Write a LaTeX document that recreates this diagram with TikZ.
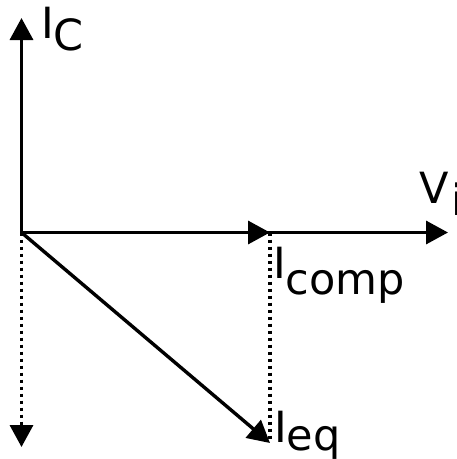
\documentclass[tikz,border=0pt]{standalone}
\usepackage{fontspec}
\setmainfont{DejaVu Sans}
\usetikzlibrary{arrows.meta}

\begin{document}
\begin{tikzpicture}[
  x=1pt,y=-1pt,
  vec/.style={-{Triangle[length=22pt,width=23pt]},line width=3.4pt},
  axes/.style={{Triangle[length=22pt,width=23pt]}-{Triangle[length=22pt,width=23pt]},
               line width=3.4pt},
  guide/.style={line width=3.4pt,dash pattern=on 3.6pt off 3.4pt},
  lbl/.style={anchor=base west,inner sep=0pt,font=\fontsize{43}{43}\selectfont}
]
\useasboundingbox (0,0) rectangle (457,459);
% end points
\coordinate (O) at (21.5,232.5);
\coordinate (ictip) at (21.5,18);
\coordinate (vitip) at (448,232.5);
\coordinate (comptip) at (270,232.5);
\coordinate (compfoot) at (270,441);
\coordinate (eqtip) at (270,443);
\coordinate (downtip) at (21.5,447);

% axes and phasors
\draw[axes] (ictip) -- (O) -- (vitip);
\draw[vec] (O) -- (comptip);
\draw[vec] (O) -- (eqtip);
\draw[guide] (comptip) -- (compfoot);
\draw[guide,-{Triangle[length=22pt,width=23pt]}] (O) -- (downtip);

% labels
\node[lbl] (lblIC) at (41,38) {I\raisebox{-12pt}{C}};
\node[lbl] (lblVi) at (419,203) {V\kern3pt\raisebox{-12pt}{i}};
\node[lbl] (lblIcomp) at (273,278) {I\raisebox{-16pt}{comp}};
\node[lbl] (lblIeq) at (274,442) {I\raisebox{-8pt}{eq}};
\end{tikzpicture}
\end{document}
